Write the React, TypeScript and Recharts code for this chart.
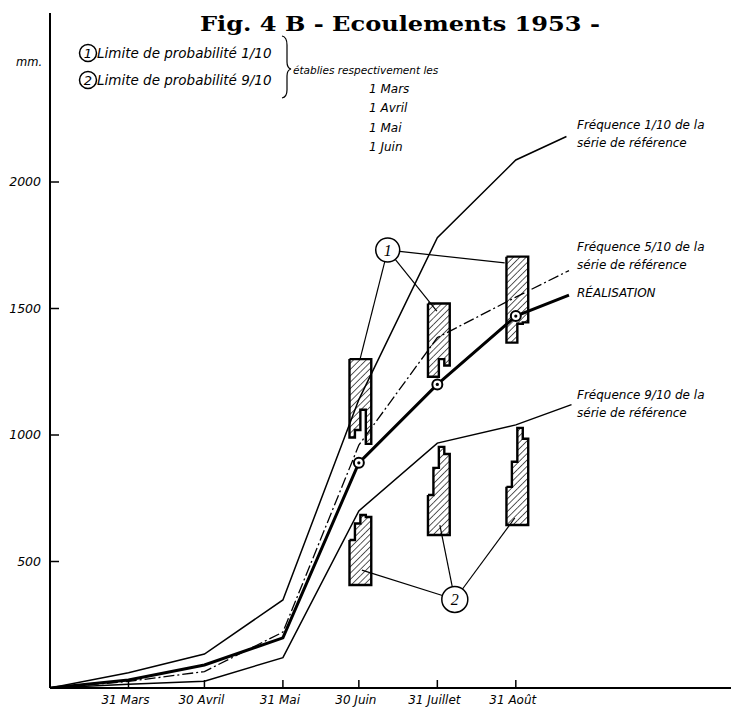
import React from 'react';
import {
  LineChart,
  Line,
  XAxis,
  YAxis,
  ReferenceArea,
  ReferenceLine,
  ReferenceDot,
} from 'recharts';

// x = days counted from 1 March 1953, y = mm
const tickDays = [31, 61, 92, 122, 153, 184];
const tickLabels = ['31 Mars', '30 Avril', '31 Mai', '30 Juin', '31 Juillet', '31 Août'];
const yTicks = [500, 1000, 1500, 2000];

const freq1Days = [0, 31, 61, 92, 122, 153, 184, 204];
const freq1Vals = [0, 60, 134, 348, 1140, 1780, 2087, 2180];

const freq5Days = [0, 31, 61, 92, 122, 153, 184, 205];
const freq5Vals = [0, 26, 65, 221, 960, 1385, 1545, 1650];

const realDays = [0, 31, 61, 92, 122, 153, 184, 205];
const realVals = [0, 32, 91, 198, 890, 1200, 1470, 1553];

const freq9Days = [0, 31, 61, 92, 122, 153, 184, 206];
const freq9Vals = [0, 15, 27, 120, 700, 968, 1040, 1120];

// hatched limit boxes, 4 strips each (forecasts of 1 Mars, 1 Avril, 1 Mai, 1 Juin)
const boxDays = [122, 153, 184];
const upperHigh = [
  [1300, 1300, 1300, 1300],
  [1520, 1520, 1520, 1520],
  [1705, 1705, 1705, 1705],
];
const upperLow = [
  [990, 1020, 1100, 965],
  [1230, 1230, 1300, 1275],
  [1365, 1365, 1440, 1445],
];
const lowerHigh = [
  [585, 650, 684, 676],
  [763, 870, 953, 925],
  [795, 894, 1028, 985],
];
const lowerLow = [
  [407, 407, 407, 407],
  [605, 605, 605, 605],
  [644, 644, 644, 644],
];

// callout circles and what they point at
const callout1 = { d: 133.4, v: 1731 };
const callout1Targets = [
  { d: 122.4, v: 1297 },
  { d: 152.8, v: 1490 },
  { d: 179.6, v: 1680 },
];
const callout2 = { d: 159.9, v: 350 };
const callout2Targets = [
  { d: 123.2, v: 466 },
  { d: 154, v: 644 },
  { d: 183.6, v: 672 },
];

const W = 731;
const H = 711;
const LEFT = 50;
const TOP = 13;
const BOTTOM = 23;
const X_MAX = 269;
const Y_MAX = 2668;
const PX_DAY = (W - LEFT) / X_MAX;
const PX_MM = (H - TOP - BOTTOM) / Y_MAX;
const BOX_W = 8.6;
const BOX_SHIFT = 0.6;
const FONT = '"DejaVu Sans", sans-serif';

const toPts = (days: number[], vals: number[]) => days.map((d, i) => ({ d, v: vals[i] }));

function strips(day: number, hi: number[], lo: number[]) {
  const sw = BOX_W / hi.length;
  const left = day + BOX_SHIFT - BOX_W / 2;
  return hi.map((h, i) => ({ x1: left + i * sw, x2: left + (i + 1) * sw, hi: h, lo: lo[i] }));
}

function outline(s: { x1: number; x2: number; hi: number; lo: number }[]) {
  const pts: { d: number; v: number }[] = [];
  s.forEach((p) => {
    pts.push({ d: p.x1, v: p.hi });
    pts.push({ d: p.x2, v: p.hi });
  });
  [...s].reverse().forEach((p) => {
    pts.push({ d: p.x2, v: p.lo });
    pts.push({ d: p.x1, v: p.lo });
  });
  pts.push({ d: s[0].x1, v: s[0].hi });
  return pts;
}

function edge(c: { d: number; v: number }, t: { d: number; v: number }, r: number) {
  const dx = (t.d - c.d) * PX_DAY;
  const dy = (t.v - c.v) * PX_MM;
  const len = Math.hypot(dx, dy);
  return { d: c.d + ((dx / len) * r) / PX_DAY, v: c.v + ((dy / len) * r) / PX_MM };
}

const boxes = boxDays.flatMap((day, i) => [
  strips(day, upperHigh[i], upperLow[i]),
  strips(day, lowerHigh[i], lowerLow[i]),
]);

function XTick(props: any) {
  const { x, y, payload } = props;
  const label = tickLabels[tickDays.indexOf(payload.value)];
  return (
    <g>
      <line x1={x} x2={x} y1={H - BOTTOM} y2={H - BOTTOM - 8} stroke="#000" strokeWidth={1.5} />
      <text x={x - 3} y={y + 14} textAnchor="middle" fontSize={12} fontStyle="italic" fontFamily={FONT} fill="#000">
        {label}
      </text>
    </g>
  );
}

function YTick(props: any) {
  const { y, payload } = props;
  return (
    <g>
      <line x1={LEFT} x2={LEFT + 9} y1={y} y2={y} stroke="#000" strokeWidth={1.5} />
      <text x={LEFT - 9} y={y + 4} textAnchor="end" fontSize={12.5} fontStyle="italic" fontFamily={FONT} fill="#000">
        {payload.value}
      </text>
    </g>
  );
}

function RingDot(props: any) {
  const { cx, cy, payload, index } = props;
  if (payload.d < 122 || payload.d > 184) return <g key={index} />;
  return (
    <g key={index}>
      <circle cx={cx} cy={cy} r={5} fill="#fff" stroke="#000" strokeWidth={2} />
      <circle cx={cx} cy={cy} r={1.6} fill="#000" />
    </g>
  );
}

const txt = { fontFamily: FONT, fontStyle: 'italic' as const, fill: '#000' };

export default function App() {
  return (
    <div style={{ position: 'absolute', left: 0, top: 0, width: W, height: H, background: '#fff' }}>
      <svg width={0} height={0} style={{ position: 'absolute' }}>
        <defs>
          <pattern id="hatch" patternUnits="userSpaceOnUse" width={4.5} height={4.5} patternTransform="rotate(45)">
            <line x1={0} y1={0} x2={0} y2={4.5} stroke="#000" strokeWidth={1.3} />
          </pattern>
        </defs>
      </svg>
      <LineChart width={W} height={H} margin={{ top: TOP, right: 0, left: 0, bottom: 0 }}>
        <XAxis
          dataKey="d"
          type="number"
          domain={[0, X_MAX]}
          ticks={tickDays}
          allowDataOverflow
          height={BOTTOM}
          tickLine={false}
          tickSize={0}
          tick={<XTick />}
          axisLine={{ stroke: '#000', strokeWidth: 2 }}
        />
        <YAxis
          type="number"
          domain={[0, Y_MAX]}
          ticks={yTicks}
          allowDataOverflow
          width={LEFT}
          tickLine={false}
          tickSize={0}
          tick={<YTick />}
          axisLine={{ stroke: '#000', strokeWidth: 2 }}
        />
        {boxes.flatMap((s, bi) =>
          s.map((p, si) => (
            <ReferenceArea
              key={`a${bi}-${si}`}
              x1={p.x1}
              x2={p.x2}
              y1={p.lo}
              y2={p.hi}
              fill="url(#hatch)"
              fillOpacity={1}
              stroke="none"
            />
          )),
        )}
        {boxes.map((s, bi) => (
          <Line
            key={`o${bi}`}
            data={outline(s)}
            dataKey="v"
            type="linear"
            stroke="#000"
            strokeWidth={2.4}
            dot={false}
            activeDot={false}
            isAnimationActive={false}
          />
        ))}
        <Line data={toPts(freq1Days, freq1Vals)} dataKey="v" type="linear" stroke="#000" strokeWidth={1.5} dot={false} isAnimationActive={false} />
        <Line
          data={toPts(freq5Days, freq5Vals)}
          dataKey="v"
          type="linear"
          stroke="#000"
          strokeWidth={1.3}
          strokeDasharray="11 3 2 3"
          dot={false}
          isAnimationActive={false}
        />
        <Line data={toPts(freq9Days, freq9Vals)} dataKey="v" type="linear" stroke="#000" strokeWidth={1.5} dot={false} isAnimationActive={false} />
        <Line data={toPts(realDays, realVals)} dataKey="v" type="linear" stroke="#000" strokeWidth={3} dot={<RingDot />} isAnimationActive={false} />
        {callout1Targets.map((t, i) => {
          const a = edge(callout1, t, 12);
          return (
            <ReferenceLine key={`p1${i}`} segment={[{ x: a.d, y: a.v }, { x: t.d, y: t.v }]} stroke="#000" strokeWidth={1.2} ifOverflow="visible" />
          );
        })}
        {callout2Targets.map((t, i) => {
          const a = edge(callout2, t, 13);
          return (
            <ReferenceLine key={`p2${i}`} segment={[{ x: a.d, y: a.v }, { x: t.d, y: t.v }]} stroke="#000" strokeWidth={1.2} ifOverflow="visible" />
          );
        })}
        <ReferenceDot
          x={callout1.d}
          y={callout1.v}
          r={12}
          fill="#fff"
          stroke="#000"
          strokeWidth={1.5}
          label={{ value: '1', position: 'center', fontSize: 16, fontStyle: 'italic', fill: '#000' }}
        />
        <ReferenceDot
          x={callout2.d}
          y={callout2.v}
          r={13}
          fill="#fff"
          stroke="#000"
          strokeWidth={1.5}
          label={{ value: '2', position: 'center', fontSize: 16, fontStyle: 'italic', fill: '#000' }}
        />
      </LineChart>
      <svg width={W} height={H} style={{ position: 'absolute', left: 0, top: 0, pointerEvents: 'none' }}>
        <text x={200} y={31} fontFamily='"DejaVu Serif", serif' fontWeight="bold" fontSize={20} textLength={400} lengthAdjust="spacingAndGlyphs" fill="#000">
          Fig. 4 B - Ecoulements 1953 -
        </text>
        <text x={16} y={66} fontSize={11.5} {...txt}>mm.</text>
        <circle cx={88} cy={53} r={8.5} fill="none" stroke="#000" strokeWidth={1.5} />
        <text x={88} y={58} textAnchor="middle" fontSize={13} {...txt}>1</text>
        <text x={97} y={58} fontSize={13.5} {...txt}>Limite de probabilité 1/10</text>
        <circle cx={88} cy={80} r={8.5} fill="none" stroke="#000" strokeWidth={1.5} />
        <text x={88} y={85} textAnchor="middle" fontSize={13} {...txt}>2</text>
        <text x={97} y={85} fontSize={13.5} {...txt}>Limite de probabilité 9/10</text>
        <path d="M282,36 Q287,37 287,45 L287,62 Q287,68 291,69 Q287,70 287,76 L287,90 Q287,97 282,98" fill="none" stroke="#000" strokeWidth={1.2} />
        <text x={293} y={74} fontSize={10.5} {...txt}>établies respectivement les</text>
        <text x={369} y={93} fontSize={12} {...txt}>1 Mars</text>
        <text x={369} y={112} fontSize={12} {...txt}>1 Avril</text>
        <text x={369} y={132} fontSize={12} {...txt}>1 Mai</text>
        <text x={369} y={151} fontSize={12} {...txt}>1 Juin</text>
        <text x={577} y={129} fontSize={12} {...txt}>Fréquence 1/10 de la</text>
        <text x={577} y={147} fontSize={12} {...txt}>série de référence</text>
        <text x={577} y={251} fontSize={12} {...txt}>Fréquence 5/10 de la</text>
        <text x={577} y={269} fontSize={12} {...txt}>série de référence</text>
        <text x={577} y={297} fontSize={12} {...txt}>RÉALISATION</text>
        <text x={577} y={399} fontSize={12} {...txt}>Fréquence 9/10 de la</text>
        <text x={577} y={417} fontSize={12} {...txt}>série de référence</text>
      </svg>
    </div>
  );
}
